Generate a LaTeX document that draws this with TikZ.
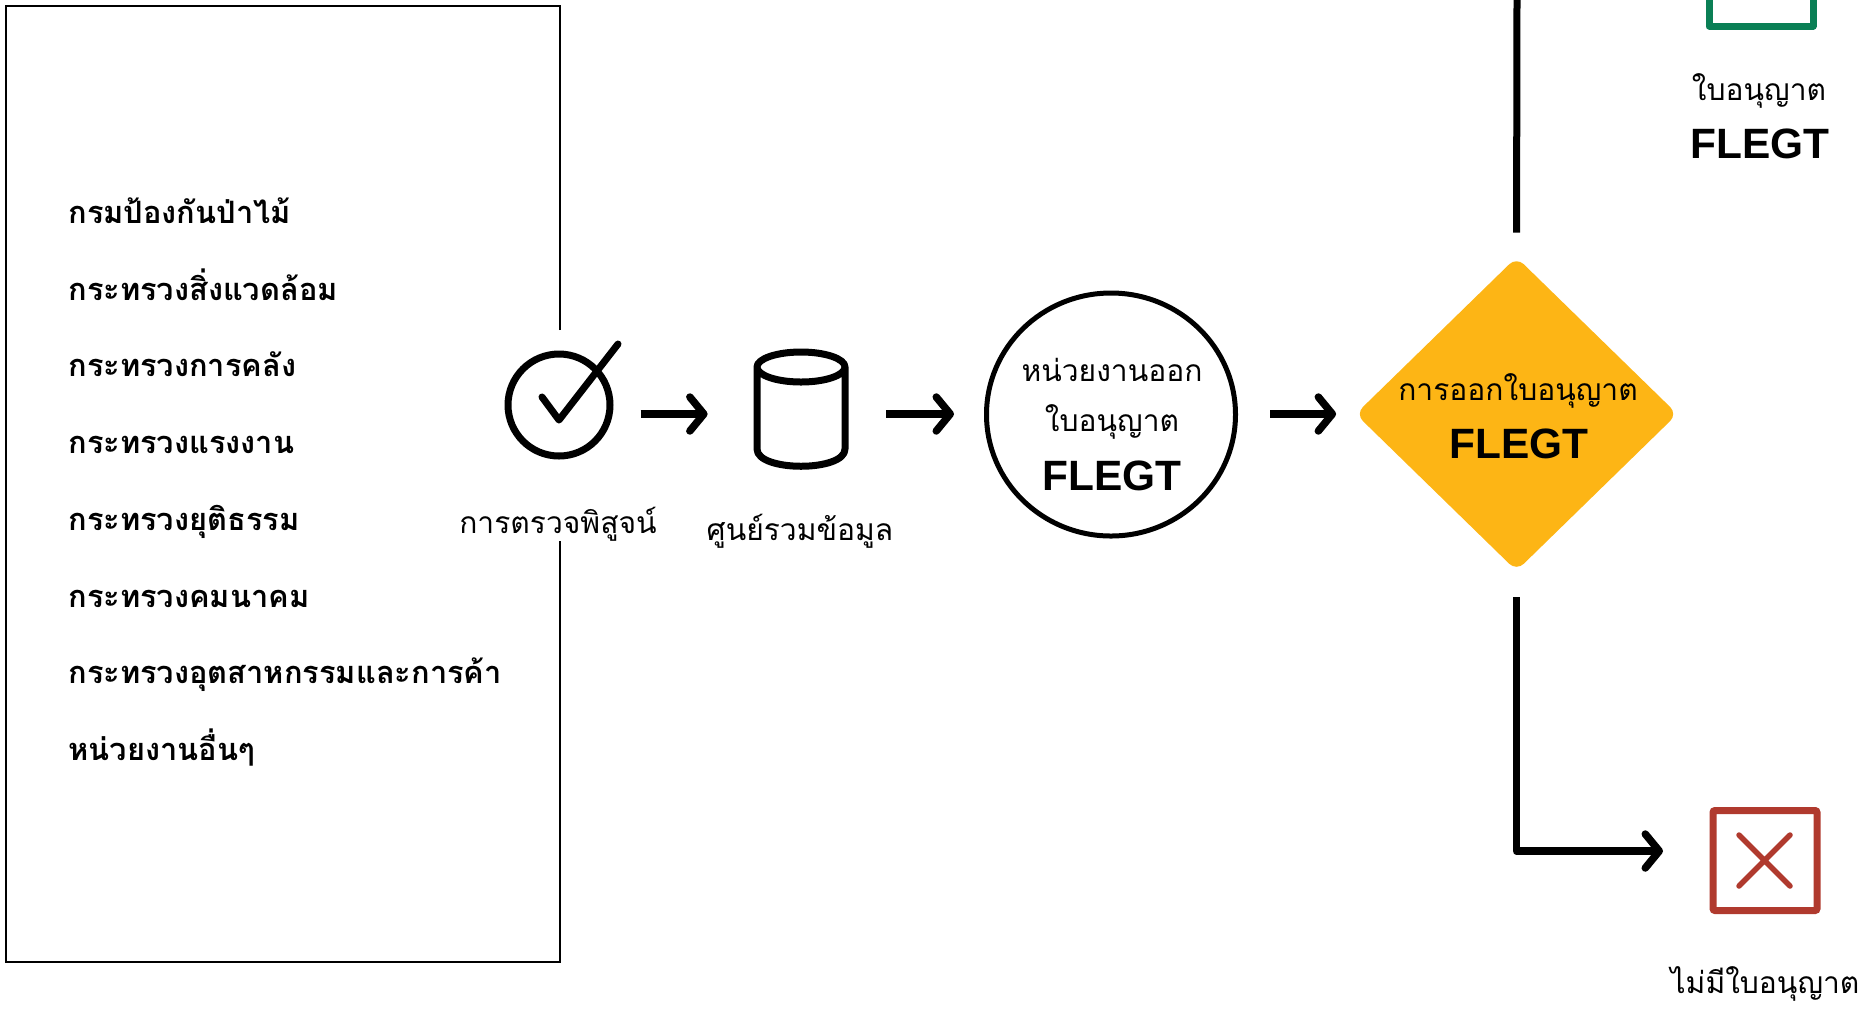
\documentclass[tikz,border=0pt]{standalone}
\usepackage{fontspec}
\newfontfamily\thaifont[Script=Thai]{Loma}
\newfontfamily\flegtfont{Liberation Sans}
\usetikzlibrary{arrows.meta,shapes.geometric}
\definecolor{gateyellow}{HTML}{FDB515}
\definecolor{okgreen}{HTML}{0A7F55}
\definecolor{nored}{HTML}{B03A2E}
\tikzset{
  agency/.style={anchor=base west,inner sep=0pt,font=\thaifont\bfseries\fontsize{15.4}{18}\selectfont},
  label/.style={inner sep=0pt,font=\thaifont\fontsize{15}{18}\selectfont},
  flegt/.style={inner sep=0pt,font=\flegtfont\bfseries\fontsize{21.2}{24}\selectfont},
  icon/.style={line width=3.5pt,line cap=round,line join=round},
  flow/.style={line width=3.75pt,line join=round,-{Straight Barb[length=7pt,width=17pt,line width=3.75pt,round]}},
  stem/.style={line width=3.5pt},
}
\begin{document}
\begin{tikzpicture}[x=.5pt,y=-.5pt]
    \useasboundingbox (0,0) rectangle (1864,1009);
    % list of agencies
    \draw[line width=1.3pt] (560,330) -- (560,6) -- (6,6) -- (6,962) -- (560,962) -- (560,541);
    \node[agency] (forest) at (68,223) {กรมป้องกันป่าไม้};
    \node[agency] (environ) at (68,300) {กระทรวงสิ่งแวดล้อม};
    \node[agency] (finance) at (68,376) {กระทรวงการคลัง};
    \node[agency] (labour) at (68,453) {กระทรวงแรงงาน};
    \node[agency] (justice) at (68,530) {กระทรวงยุติธรรม};
    \node[agency] (transport) at (68,607) {กระทรวงคมนาคม};
    \node[agency] (industry) at (68,683) {กระทรวงอุตสาหกรรมและการค้า};
    \node[agency] (others) at (68,760) {หน่วยงานอื่นๆ};
    % check icon
    \node[circle,draw,icon,minimum size=51pt,inner sep=0pt] (verify) at (559,405) {};
    \draw[icon] (542,397) -- (559,420) -- (618,344);
    \node[label] (verifytext) at (558,524) {การตรวจพิสูจน์};
    % database icon
    \node[inner sep=0pt,minimum width=46pt,minimum height=59pt] (store) at (802,410) {};
    \draw[icon] (757,367) arc (180:-180:44 and 15) -- (757,449) .. controls (757,472) and (845,472) .. (845,449) -- (845,367);
    \node[label] (storetext) at (800,531) {ศูนย์รวมข้อมูล};
    % issuing agency
    \node[ellipse,draw,line width=2.5pt,minimum width=124.5pt,minimum height=121.5pt,inner sep=0pt] (issuer) at (1111,414.5) {};
    \node[label] (issuerone) at (1112,370) {หน่วยงานออก};
    \node[label] (issuertwo) at (1112,422) {ใบอนุญาต};
    \node[flegt] (issuerflegt) at (1112,476) {FLEGT};
    % decision
    \node[diamond,fill=gateyellow,rounded corners=5pt,aspect=1,minimum width=161pt,minimum height=157pt,inner sep=0pt] (gate) at (1516.5,414) {};
    \node[label] (gateone) at (1518,391) {การออกใบอนุญาต};
    \node[flegt] (gateflegt) at (1519,444) {FLEGT};
    % licence yes
    \draw[okgreen,line width=3.5pt,line join=round] (1709,0) -- (1709,26) -- (1813,26) -- (1813,0);
    \node[label] (yestext) at (1759,91) {ใบอนุญาต};
    \node[flegt] (yesflegt) at (1760,144) {FLEGT};
    % licence no
    \node[rectangle,draw=nored,line width=3.5pt,rounded corners=1pt,minimum width=52pt,minimum height=50pt,inner sep=0pt] (nobox) at (1765,860.5) {};
    \draw[nored,line width=2.75pt,line cap=round] (1739,835) -- (1790,886) (1790,835) -- (1739,886);
    \node[label] (notext) at (1765,984) {ไม่มีใบอนุญาต};
    % connectors
    \coordinate (topend) at (1517,0);
    \coordinate (noend) at (1663,851);
    \draw[flow,shorten <=13.5pt,shorten >=24pt] (verify.east |- gate.west) -- (store.west |- gate.west);
    \draw[flow,shorten <=19pt,shorten >=15pt] (store.east |- gate.west) -- (issuer.west |- gate.west);
    \draw[flow,shorten <=16pt,shorten >=9.5pt] (issuer.east |- gate.west) -- (gate.west);
    \draw[stem,shorten <=12pt] (gate.north) -- (topend);
    \draw[flow,shorten <=13pt] (gate.south) |- (noend);
\end{tikzpicture}
\end{document}
